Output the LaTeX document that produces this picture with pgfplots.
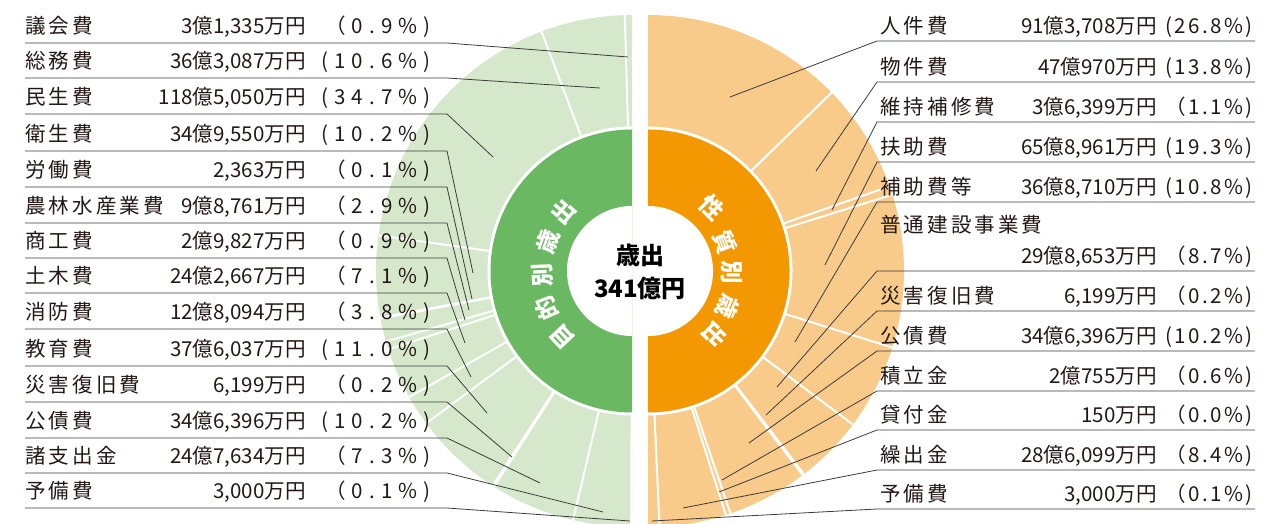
\documentclass[border=0pt]{standalone}
\usepackage{fontspec}
\setmainfont{Noto Sans CJK JP}
\usepackage{pgfplots}
\pgfplotsset{compat=1.18}
\definecolor{lgreen}{RGB}{213,232,204}
\definecolor{dgreen}{RGB}{106,185,98}
\definecolor{dorange}{RGB}{243,152,0}
\definecolor{lorange}{RGB}{248,203,138}
\definecolor{txt}{RGB}{35,24,21}
\definecolor{ldr}{RGB}{60,60,60}
\newcommand{\lbl}{\fontsize{15.4pt}{18pt}\selectfont}
\newcommand{\nmfont}{\lbl\addfontfeatures{LetterSpace=15}}
\newcommand{\pctL}{\lbl\addfontfeatures{LetterSpace=30}}
\newcommand{\pctR}{\lbl\addfontfeatures{LetterSpace=12}}
\newcommand{\icfont}{\fontsize{17.5pt}{20pt}\selectfont\bfseries}
% separator between two segments, angle in degrees (polar)
\newcommand{\sep}[1]{\addplot[white,line width=1.5pt,no marks,data cs=polar] coordinates {(#1,144) (#1,256)};}
% filled half disk: radius, domain, colour
\newcommand{\rim}[3]{\addplot[draw=none,no marks,fill=#3,domain=#2,samples=181,variable=\t] ({#1*cos(\t)},{#1*sin(\t)});}
\newcommand{\ic}[4]{\node[rotate=#3,text=white,font=\icfont,inner sep=0pt] at (axis cs:#1,#2) {#4};}
% left row: baseline y, name, money, percent
\newcommand{\Lrow}[4]{%
\node[anchor=base west,inner sep=0pt,text=txt,font=\nmfont] at (axis cs:25,#1) {#2};
\node[anchor=base east,inner sep=0pt,text=txt,font=\lbl] at (axis cs:306,#1) {#3};
\node[anchor=base east,inner sep=0pt,text=txt,font=\pctL] at (axis cs:431,#1) {#4};}
\newcommand{\Rrow}[4]{%
\node[anchor=base west,inner sep=0pt,text=txt,font=\nmfont] at (axis cs:880,#1) {#2};
\node[anchor=base east,inner sep=0pt,text=txt,font=\lbl] at (axis cs:1157,#1) {#3};
\node[anchor=base east,inner sep=0pt,text=txt,font=\pctR] at (axis cs:1253,#1) {#4};}
\begin{document}
\begin{tikzpicture}
\pgfplotsset{base/.style={width=960.75pt,height=393pt,scale only axis,hide axis,at={(0,0)},anchor=south west},
  leader/.style={ldr,line width=0.6pt,no marks,solid}}
% ---------- left half: 目的別歳出 ----------
\begin{axis}[base,xmin=-632,xmax=649,ymin=-253,ymax=271]
\rim{256}{90:270}{lgreen}
\rim{144.5}{90:270}{white}
\rim{141.5}{90:270}{dgreen}
\rim{65}{90:270}{white}
% cumulative shares 0.9,11.5,46.2,56.4,56.5,59.4,60.3,67.4,71.2,82.2,82.4,92.6,99.9 % -> angles
\sep{91.62}\sep{110.70}\sep{172.0}\sep{190.5}\sep{190.7}\sep{196.0}\sep{197.8}
\sep{209.5}\sep{216.5}\sep{237.0}\sep{237.4}\sep{256.68}\sep{269.82}
\ic{-69}{59}{49.5}{出}
\ic{-84}{29}{71}{歳}
\ic{-90}{-4}{92.5}{別}
\ic{-85}{-37}{113.5}{的}
\ic{-70}{-66}{133.3}{目}
\end{axis}
% ---------- right half: 性質別歳出 ----------
\begin{axis}[base,xmin=-648,xmax=633,ymin=-253,ymax=271]
\rim{256}{-90:90}{lorange}
\rim{144.5}{-90:90}{white}
\rim{141.5}{-90:90}{dorange}
\rim{65}{-90:90}{white}
% cumulative shares 26.8,40.6,41.7,61.0,71.8,80.5,80.7,90.9,91.5,91.5,99.9 % -> angles
\sep{44.16}\sep{19.32}\sep{17.34}\sep{-17.40}\sep{-36.84}\sep{-52.50}\sep{-52.86}
\sep{-71.22}\sep{-72.30}\sep{-87.42}
\ic{64}{63}{-45.5}{性}
\ic{77}{29}{-69.4}{質}
\ic{84}{-1}{-90.7}{別}
\ic{80}{-36}{-114.2}{歳}
\ic{67}{-64}{-133.7}{出}
\end{axis}
% ---------- labels and leaders ----------
\begin{axis}[base,xmin=0,xmax=1281,ymin=0,ymax=524,y dir=reverse,clip=false]
\addplot[leader] coordinates {(25,43) (447,43) (628,57)};
\addplot[leader] coordinates {(25,78) (447,78) (600,88)};
\addplot[leader] coordinates {(25,114) (447,114) (493,157)};
\addplot[leader] coordinates {(25,151) (447,151) (473,273)};
\addplot[leader] coordinates {(25,187) (447,187) (472,299)};
\addplot[leader] coordinates {(25,223) (447,223) (469,310)};
\addplot[leader] coordinates {(25,258) (447,258) (465,320)};
\addplot[leader] coordinates {(25,293) (447,293) (465,343)};
\addplot[leader] coordinates {(25,329) (447,329) (471,377)};
\addplot[leader] coordinates {(25,366) (447,366) (487,413)};
\addplot[leader] coordinates {(25,402) (447,402) (512,457)};
\addplot[leader] coordinates {(25,438) (447,438) (540,483)};
\addplot[leader] coordinates {(25,473) (447,473) (603,512)};
\addplot[leader] coordinates {(25,508) (447,508) (630,521)};
\addplot[leader] coordinates {(1255,41) (877,41) (730,97)};
\addplot[leader] coordinates {(1255,82) (877,82) (816,171)};
\addplot[leader] coordinates {(1255,122) (877,122) (832,210)};
\addplot[leader] coordinates {(1255,162) (877,162) (825,265)};
\addplot[leader] coordinates {(1255,202) (877,202) (795,342)};
\addplot[leader] coordinates {(1255,271) (877,271) (777,387)};
\addplot[leader] coordinates {(1255,311) (877,311) (766,415)};
\addplot[leader] coordinates {(1255,351) (877,351) (749,443)};
\addplot[leader] coordinates {(1255,391) (877,391) (722,480)};
\addplot[leader] coordinates {(1255,430) (877,430) (719,492)};
\addplot[leader] coordinates {(1255,470) (877,470) (683,508)};
\addplot[leader] coordinates {(1255,509) (877,509) (652,521)};
\Lrow{33.5}{議会費}{3億1,335万円}{（0.9\%)}
\Lrow{68.5}{総務費}{36億3,087万円}{(10.6\%)}
\Lrow{104.5}{民生費}{118億5,050万円}{(34.7\%)}
\Lrow{141.5}{衛生費}{34億9,550万円}{(10.2\%)}
\Lrow{177.5}{労働費}{2,363万円}{（0.1\%)}
\Lrow{213.5}{農林水産業費}{9億8,761万円}{（2.9\%)}
\Lrow{248.5}{商工費}{2億9,827万円}{（0.9\%)}
\Lrow{283.5}{土木費}{24億2,667万円}{（7.1\%)}
\Lrow{319.5}{消防費}{12億8,094万円}{（3.8\%)}
\Lrow{356.5}{教育費}{37億6,037万円}{(11.0\%)}
\Lrow{392.5}{災害復旧費}{6,199万円}{（0.2\%)}
\Lrow{428.5}{公債費}{34億6,396万円}{(10.2\%)}
\Lrow{463.5}{諸支出金}{24億7,634万円}{（7.3\%)}
\Lrow{498.5}{予備費}{3,000万円}{（0.1\%)}
\Rrow{33.5}{人件費}{91億3,708万円}{(26.8\%)}
\Rrow{74.5}{物件費}{47億970万円}{(13.8\%)}
\Rrow{114.5}{維持補修費}{3億6,399万円}{（1.1\%)}
\Rrow{154.5}{扶助費}{65億8,961万円}{(19.3\%)}
\Rrow{194.5}{補助費等}{36億8,710万円}{(10.8\%)}
\node[anchor=base west,inner sep=0pt,text=txt,font=\nmfont] at (axis cs:880,232) {普通建設事業費};
\Rrow{263.5}{}{29億8,653万円}{（8.7\%)}
\Rrow{303.5}{災害復旧費}{6,199万円}{（0.2\%)}
\Rrow{343.5}{公債費}{34億6,396万円}{(10.2\%)}
\Rrow{383.5}{積立金}{2億755万円}{（0.6\%)}
\Rrow{422.5}{貸付金}{150万円}{（0.0\%)}
\Rrow{462.5}{繰出金}{28億6,099万円}{（8.4\%)}
\Rrow{501.5}{予備費}{3,000万円}{（0.1\%)}
\node[text=black,font=\fontsize{18pt}{20pt}\selectfont\bfseries,inner sep=0pt] at (axis cs:640,255) {歳出};
\node[text=black,font=\fontsize{18pt}{20pt}\selectfont\bfseries,inner sep=0pt] at (axis cs:640,288) {341億円};
\end{axis}
\pgfresetboundingbox
\useasboundingbox (0,0) rectangle (960.75pt,393pt);
\end{tikzpicture}
\end{document}
